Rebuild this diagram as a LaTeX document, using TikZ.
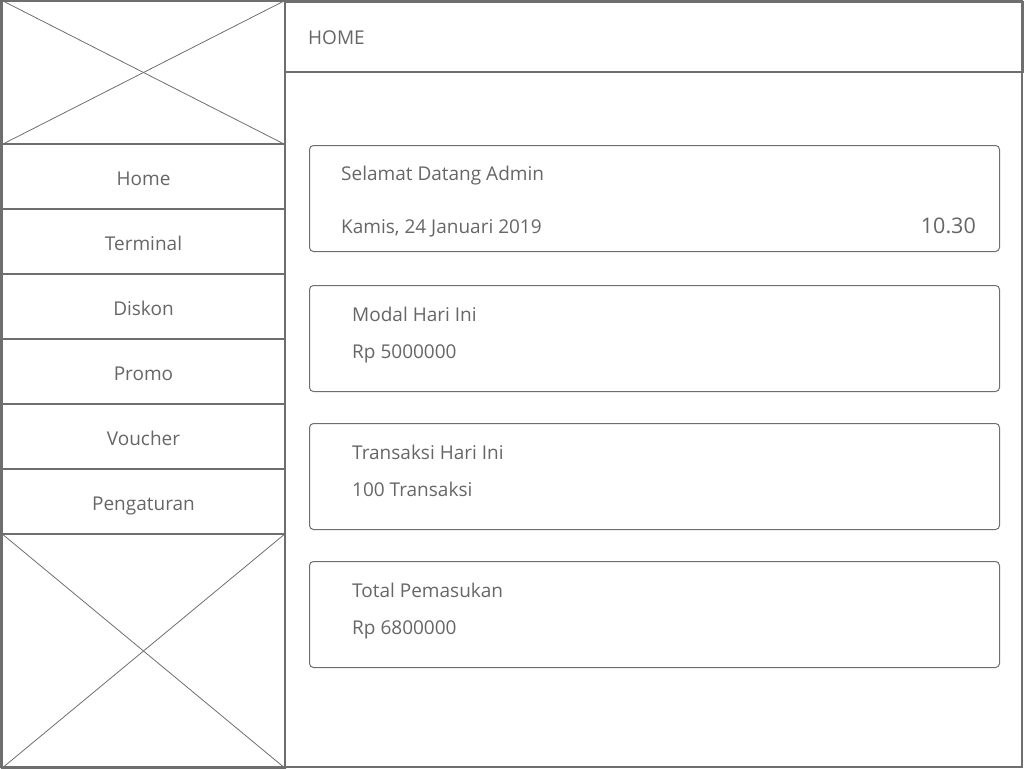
\documentclass[tikz,border=0pt]{standalone}
\usepackage{fontspec}
\setmainfont{Open Sans}
\usetikzlibrary{positioning}

\definecolor{wiregray}{RGB}{110,110,110}
\definecolor{wiretext}{RGB}{102,102,102}

\begin{document}
\begin{tikzpicture}[x=1pt, y=-1pt, font=\fontsize{19}{22}\selectfont, text=wiretext]
  % Styles for the wireframe parts
  \tikzset{
    frame/.style={draw=wiregray, line width=2pt},
    cross/.style={draw=wiregray, line width=0.8pt},
    menuitem/.style={frame, anchor=north west, minimum width=283pt, minimum height=65pt,
      inner sep=0pt, text height=17pt, text depth=0pt},
    card/.style={draw=wiregray, line width=1pt, rounded corners=4pt, anchor=north west,
      minimum width=690pt, minimum height=106pt, inner sep=0pt},
    label/.style={anchor=base west, inner sep=0pt}
  }

  \useasboundingbox (0,0) rectangle (1024,768);

  % Outer frame and header bar
  \draw[frame] (1,1) rectangle (1022,767);
  \node[frame, anchor=north west, minimum width=738pt, minimum height=70pt, inner sep=0pt]
    (header) at (284,1) {};
  \node[label] (header-title) at (308,45) {HOME};

  % Logo placeholder at the top of the sidebar
  \node[frame, anchor=north west, minimum width=283pt, minimum height=143pt, inner sep=0pt]
    (logo) at (1,0) {};
  \draw[cross] (logo.north west) -- (logo.south east);
  \draw[cross] (logo.north east) -- (logo.south west);

  % Sidebar menu
  \foreach \i/\txt in {
    1/Home,
    2/Terminal,
    3/Diskon,
    4/Promo,
    5/Voucher,
    6/Pengaturan
  }{
    \node[menuitem] (menu-\i) at (1,{143+65*(\i-1)}) {\txt};
  }

  % Picture placeholder below the menu
  \node[frame, anchor=north west, minimum width=283pt, minimum height=234pt, inner sep=0pt]
    (banner) at (1,533) {};
  \draw[cross] (banner.north west) -- (banner.south east);
  \draw[cross] (banner.north east) -- (banner.south west);

  % Welcome card
  \node[card] (card-1) at (309,145) {};
  \node[label] (welcome) at (341,180) {Selamat Datang Admin};
  \node[label] (date) at (341,233) {Kamis, 24 Januari 2019};
  \node[anchor=base east, inner sep=0pt, font=\fontsize{21.5}{24}\selectfont]
    (clock) at (976,233) {10.30};

  % Summary cards
  \foreach \i/\title/\val in {
    2/Modal Hari Ini/Rp 5000000,
    3/Transaksi Hari Ini/100 Transaksi,
    4/Total Pemasukan/Rp 6800000
  }{
    \node[card] (card-\i) at (309,{285+138*(\i-2)}) {};
    \node[label] (title-\i) at (352,{321+138*(\i-2)}) {\title};
    \node[label] (value-\i) at (352,{358+138*(\i-2)}) {\val};
  }
\end{tikzpicture}
\end{document}
